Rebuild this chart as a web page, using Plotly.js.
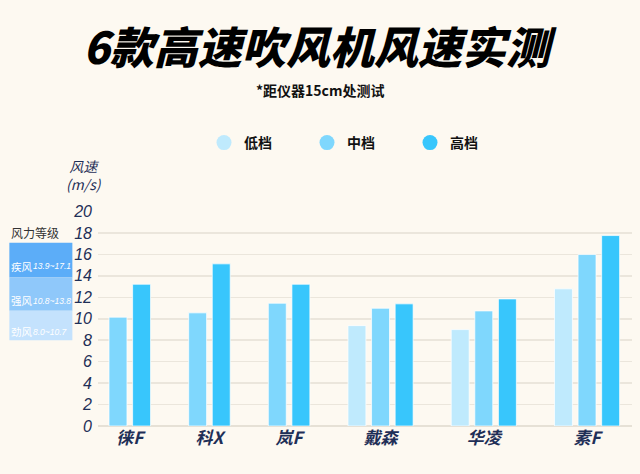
<!DOCTYPE html>
<html>
<head>
<meta charset="utf-8">
<script src="https://cdn.plot.ly/plotly-3.0.1.min.js"></script>
<style>
  html, body { margin: 0; padding: 0; background: #fdf9f1; }
  #chart { width: 640px; height: 474px; }
</style>
</head>
<body>
<div id="chart"></div>
<script>
// data
const models = ["徕F", "科X", "岚F", "戴森", "华凌", "素F"];
const levelNames = ["低档", "中档", "高档"];
const lowSpeed = [null, null, null, 9.36, 8.99, 12.79];
const midSpeed = [10.15, 10.55, 11.45, 10.98, 10.73, 15.99];
const highSpeed = [13.22, 15.12, 13.22, 11.39, 11.85, 17.76];

const gradeNames = ["疾风", "强风", "劲风"];
const gradeLow = [13.9, 10.8, 8.0];
const gradeHigh = [17.1, 13.8, 10.7];

const yTicks = [0, 2, 4, 6, 8, 10, 12, 14, 16, 18, 20];

const levelColors = ["#bfeafd", "#7fd7fd", "#38c6fc"];
const gradeColors = ["#5cadf8", "#8fc8fa", "#c4e2fd"];
const navy = "#1f2f57";

// lay bars out one after another, skipping missing ones, with a gap between models
const series = [lowSpeed, midSpeed, highSpeed];
const groupGap = 1.375;
const barX = series.map(() => models.map(() => null));
const centers = [];
let k = 0;
models.forEach((m, g) => {
    const xs = [];
    series.forEach((s, i) => {
        if (s[g] !== null) {
            const x = k + g * groupGap;
            barX[i][g] = x;
            xs.push(x);
            k++;
        }
    });
    centers.push(xs.reduce((a, b) => a + b, 0) / xs.length);
});

const traces = series.map((s, i) => ({
    type: "bar",
    x: barX[i],
    y: s,
    width: 0.76,
    name: levelNames[i],
    marker: {
        color: levelColors[i],
        line: { color: "rgba(255,255,255,0.7)", width: 1 }
    },
    showlegend: false,
    hoverinfo: "skip"
}));

// round legend markers
levelNames.forEach((n, i) => {
    traces.push({
        type: "scatter",
        mode: "markers",
        x: [null],
        y: [null],
        name: n,
        marker: { color: levelColors[i], size: 15, symbol: "circle" }
    });
});

const shapes = [];
const annotations = [];

gradeNames.forEach((n, i) => {
    const top = i === 0 ? gradeHigh[i] : (gradeHigh[i] + gradeLow[i - 1]) / 2;
    const bottom = i === gradeNames.length - 1 ? gradeLow[i] : (gradeLow[i] + gradeHigh[i + 1]) / 2;
    const mid = (top + bottom) / 2 - 0.6;
    shapes.push({
        type: "rect",
        xref: "paper", yref: "y",
        x0: -0.166, x1: -0.048,
        y0: bottom, y1: top,
        fillcolor: gradeColors[i],
        line: { width: 0 },
        layer: "below"
    });
    annotations.push(
        {
            xref: "paper", yref: "y",
            x: -0.166, xshift: 0, y: mid,
            xanchor: "left", yanchor: "middle",
            showarrow: false,
            text: n,
            font: { family: "Noto Sans CJK SC", size: 10.5, color: "#ffffff" }
        },
        {
            xref: "paper", yref: "y",
            x: -0.166, xshift: 22, y: mid,
            xanchor: "left", yanchor: "middle",
            showarrow: false,
            text: gradeLow[i].toFixed(1) + "~" + gradeHigh[i].toFixed(1),
            font: { family: "Liberation Sans", style: "italic", size: 8.5, color: "#ffffff" }
        }
    );
});

// centre of the page, in plot-area paper units
const pageMid = (320 - 98) / 534;

annotations.push(
    {
        xref: "paper", yref: "paper",
        x: pageMid, y: 1, yshift: 166,
        xanchor: "center", yanchor: "middle",
        showarrow: false,
        text: "<i>6款高速吹风机风速实测</i>",
        font: { family: "Noto Sans CJK SC", size: 44, color: "#000000", weight: 900 }
    },
    {
        xref: "paper", yref: "paper",
        x: pageMid, y: 1, yshift: 121,
        xanchor: "center", yanchor: "middle",
        showarrow: false,
        text: "*距仪器15cm处测试",
        font: { family: "Noto Sans CJK SC", size: 14, color: "#111111", weight: 700 }
    },
    {
        xref: "paper", yref: "paper",
        x: -0.027, y: 1, yshift: 36,
        xanchor: "center", yanchor: "middle",
        showarrow: false,
        text: "<i>风速<br>(m/s)</i>",
        font: { family: "Noto Sans CJK SC", size: 14, color: navy }
    },
    {
        xref: "paper", yref: "paper",
        x: -0.166, y: 1, yshift: -21,
        xanchor: "left", yanchor: "middle",
        showarrow: false,
        text: "风力等级",
        font: { family: "Noto Sans CJK SC", size: 12, color: "#333333" }
    }
);

const layout = {
    width: 640,
    height: 474,
    paper_bgcolor: "#fdf9f1",
    plot_bgcolor: "#fdf9f1",
    margin: { l: 98, r: 8, t: 211, b: 48, pad: 0 },
    barmode: "overlay",
    showlegend: true,
    legend: {
        orientation: "h",
        x: (204 - 98) / 534, xanchor: "left",
        y: 1 + 68 / 215, yanchor: "middle", yref: "paper",
        font: { family: "Noto Sans CJK SC", size: 14, color: "#111111", weight: 700 },
        entrywidth: 58,
        entrywidthmode: "pixels",
        itemwidth: 30,
        bgcolor: "rgba(0,0,0,0)"
    },
    xaxis: {
        type: "linear",
        range: [-0.847, 21.78],
        tickvals: centers,
        ticktext: models.map(m => "<i>" + m + "</i>"),
        tickfont: { family: "Noto Sans CJK SC", size: 17, color: navy, weight: 700 },
        showgrid: false,
        zeroline: false,
        showline: false,
        ticks: ""
    },
    yaxis: {
        range: [0, 20.05],
        tickvals: yTicks,
        tickfont: { family: "Liberation Sans", style: "italic", size: 16, color: navy },
        gridcolor: "#ebe6dc",
        gridwidth: 1.5,
        zeroline: true,
        zerolinecolor: "#e6e1d6",
        zerolinewidth: 1.5,
        showline: false,
        ticks: "",
        ticklabelstandoff: 5
    },
    shapes: shapes,
    annotations: annotations
};

Plotly.newPlot("chart", traces, layout, { displayModeBar: false, staticPlot: true });
</script>
</body>
</html>
